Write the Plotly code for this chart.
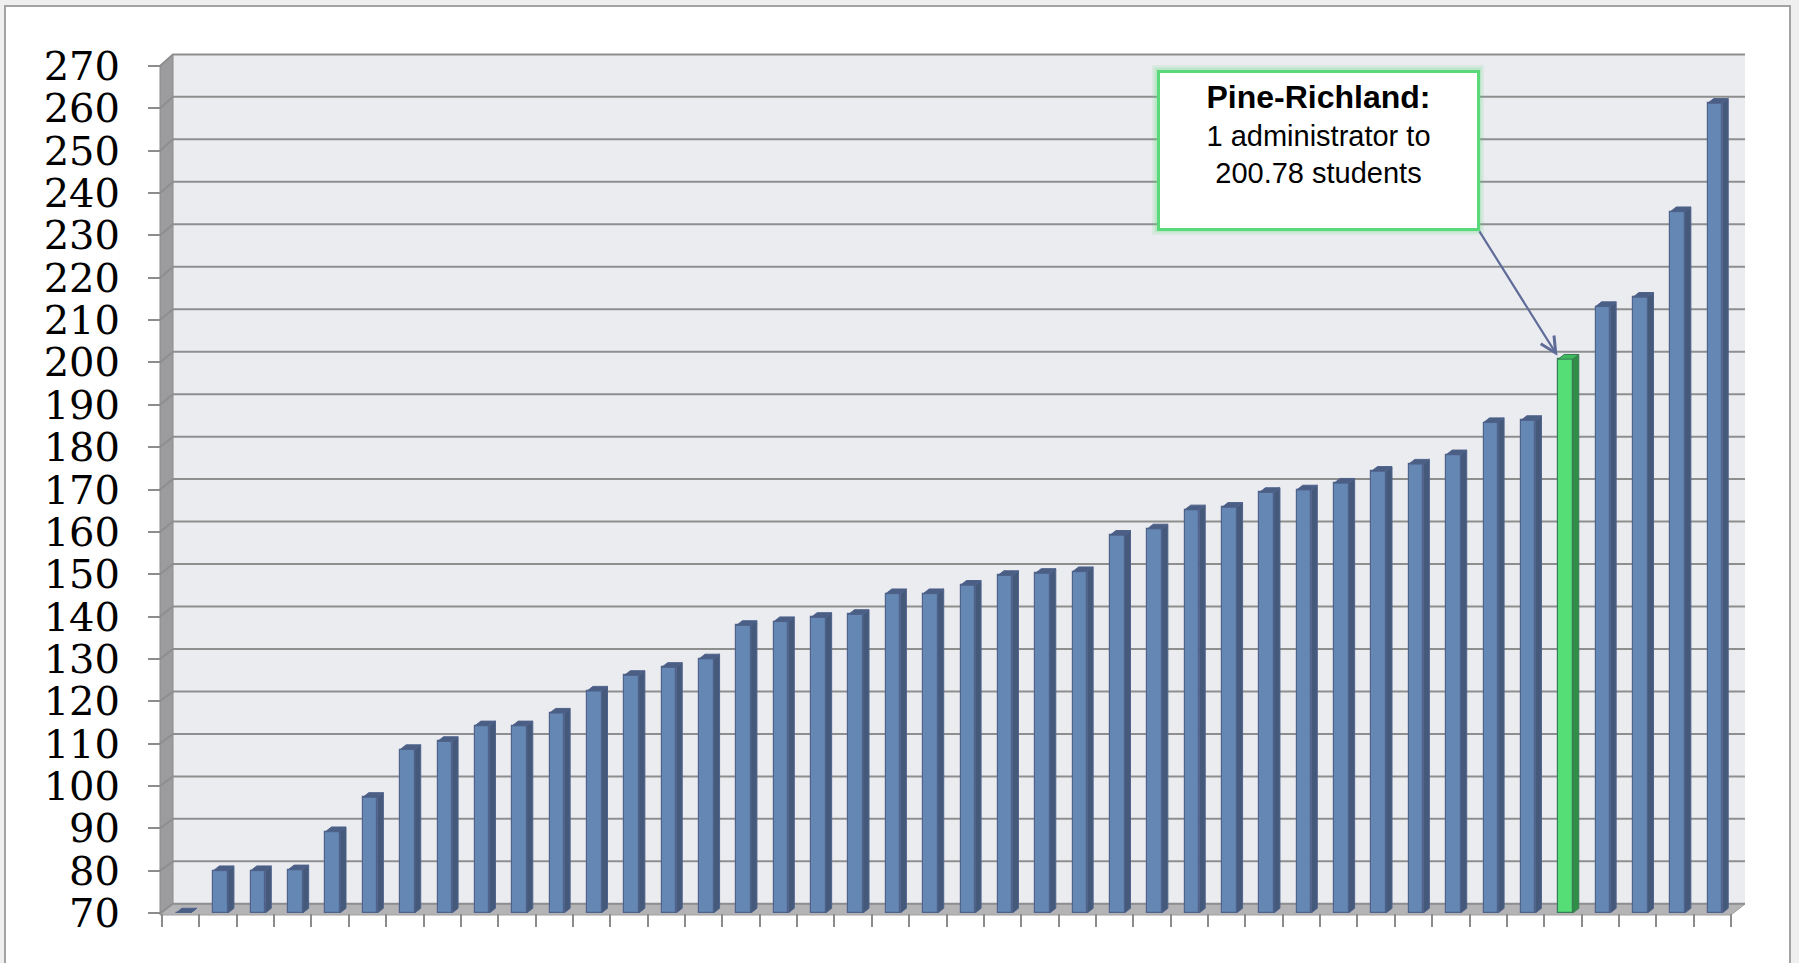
import plotly.graph_objects as go

# ---------------- data ----------------
values = [70.0, 80.0, 80.0, 80.2, 89.2, 97.3, 108.6, 110.5, 114.2, 114.2,
          117.2, 122.4, 126.1, 128.0, 130.0, 137.9, 138.8, 139.8, 140.5, 145.4,
          145.4, 147.4, 149.7, 150.2, 150.6, 159.2, 160.7, 165.2, 165.8, 169.3,
          169.9, 171.5, 174.3, 176.0, 178.2, 185.8, 186.3, 200.78, 213.2, 215.4,
          235.6, 261.2]
highlight_index = 37
y_ticks = list(range(70, 271, 10))
note_title = "Pine-Richland:"
note_lines = ["1 administrator to", "200.78 students"]

# ---------------- geometry ----------------
W_FIG, H_FIG = 1799, 963
ML, MR, MT, MB = 162, 68, 66, 50
PW = W_FIG - ML - MR
PH = H_FIG - MT - MB
YMIN, YMAX = 70, 270
n = len(values)
px_cat = PW / n
px_unit = PH / (YMAX - YMIN)


def pxx(px):
    return (px - ML) / PW


def pxy(py):
    return (H_FIG - MB - py) / PH


BLUE_FRONT = "#6488b3"
BLUE_SIDE = "#455a7b"
BLUE_TOP = "#4b5f84"
BLUE_EDGE = "#4f628c"
GREEN_FRONT = "#55dd76"
GREEN_SIDE = "#2f8f47"
GREEN_TOP = "#3dbb5c"
GREEN_EDGE = "#3a7a58"

off = 0.07
bw = 0.39
dx = 6.0 / px_cat
dy = 4.7 / px_unit

xs = [i + off for i in range(n)]
front_colors = [GREEN_FRONT if i == highlight_index else BLUE_FRONT for i in range(n)]
edge_colors = [GREEN_EDGE if i == highlight_index else BLUE_EDGE for i in range(n)]

fig = go.Figure()
fig.add_trace(go.Bar(
    x=xs, y=[v - YMIN for v in values], base=YMIN, width=bw,
    marker=dict(color=front_colors, line=dict(color=edge_colors, width=1.2)),
    hoverinfo="skip", showlegend=False))


def polys(indices, kind):
    px, py = [], []
    for i in indices:
        v = values[i]
        xl = xs[i] - bw / 2
        xr = xs[i] + bw / 2
        if kind == "side":
            pts = [(xr, YMIN), (xr, v), (xr + dx, v + dy), (xr + dx, YMIN + dy), (xr, YMIN)]
        else:
            pts = [(xl, v), (xr, v), (xr + dx, v + dy), (xl + dx, v + dy), (xl, v)]
        for a, b in pts:
            px.append(a)
            py.append(b)
        px.append(None)
        py.append(None)
    return px, py


blue_idx = [i for i in range(n) if i != highlight_index]
green_idx = [highlight_index]
for idx, side_c, top_c, edge_c in [(blue_idx, BLUE_SIDE, BLUE_TOP, BLUE_EDGE),
                                   (green_idx, GREEN_SIDE, GREEN_TOP, GREEN_EDGE)]:
    for kind, col in [("side", side_c), ("top", top_c)]:
        X, Y = polys(idx, kind)
        fig.add_trace(go.Scatter(x=X, y=Y, mode="lines", fill="toself",
                                 fillcolor=col, line=dict(color=edge_c, width=1),
                                 hoverinfo="skip", showlegend=False))

# ---------------- decoration shapes ----------------
shapes = []
# outer frame
shapes.append(dict(type="rect", xref="paper", yref="paper", layer="below",
                   x0=pxx(5), x1=pxx(1790), y0=pxy(1000), y1=pxy(6),
                   fillcolor="white", line=dict(color="#a3a3a3", width=2)))
# 3D box geometry (px)
FL, BLX, BRX, FRX = 160, 173, 1745, 1731
FRONT_BOTTOM, BACK_BOTTOM, BACK_TOP, FRONT_TOP = 915, 904, 54, 66
# back wall
shapes.append(dict(type="rect", xref="paper", yref="paper", layer="below",
                   x0=pxx(BLX), x1=pxx(BRX), y0=pxy(BACK_BOTTOM), y1=pxy(BACK_TOP),
                   fillcolor="#ebecf0", line=dict(width=0)))
# left wall
shapes.append(dict(type="path", xref="paper", yref="paper", layer="below",
                   path=f"M{pxx(FL)},{pxy(FRONT_TOP)} L{pxx(BLX)},{pxy(BACK_TOP)} "
                        f"L{pxx(BLX)},{pxy(BACK_BOTTOM)} L{pxx(FL)},{pxy(FRONT_BOTTOM)} Z",
                   fillcolor="#9c9c9e", line=dict(color="#8a8a8a", width=1)))
# floor
shapes.append(dict(type="path", xref="paper", yref="paper", layer="below",
                   path=f"M{pxx(FL)},{pxy(FRONT_BOTTOM)} L{pxx(BLX)},{pxy(BACK_BOTTOM)} "
                        f"L{pxx(BRX)},{pxy(BACK_BOTTOM)} L{pxx(FRX)},{pxy(FRONT_BOTTOM)} Z",
                   fillcolor="#b4b4b6", line=dict(color="#a0a0a0", width=1)))
# gridlines on back wall with diagonal on the left wall
for v in y_ticks:
    yt = (v - YMIN) / (YMAX - YMIN)
    shift = 9.2 + 0.012 * (v - YMIN)
    yg = yt + shift / PH
    shapes.append(dict(type="path", xref="paper", yref="paper", layer="below",
                       path=f"M{pxx(FL)},{yt} L{pxx(BLX)},{yg} L{pxx(BRX)},{yg}",
                       line=dict(color="#8e8e8e", width=2)))
# soft glow behind note box
bx0, bx1, by0, by1 = 1158, 1478, 71, 229
for w, a in [(12, 0.12), (7, 0.22)]:
    shapes.append(dict(type="rect", xref="paper", yref="paper", layer="above",
                       x0=pxx(bx0), x1=pxx(bx1), y0=pxy(by1), y1=pxy(by0),
                       fillcolor="rgba(255,255,255,0)",
                       line=dict(color=f"rgba(90,217,120,{a})", width=w)))

fig.update_layout(shapes=shapes)

# ---------------- note box and arrow ----------------
BORDER = 3
PAD = 6
fig.add_annotation(
    xref="paper", yref="paper", xanchor="center", yanchor="middle",
    x=pxx((bx0 + bx1) / 2), y=pxy((by0 + by1) / 2),
    text=(f"<span style='font-size:32px'><b>{note_title}</b></span>"
          f"<br>{note_lines[0]}<br>{note_lines[1]}"),
    showarrow=False, align="center", valign="top",
    width=bx1 - bx0 - 2 * PAD - BORDER, height=by1 - by0 - 2 * PAD - BORDER,
    borderpad=PAD, bgcolor="white", bordercolor="#5ad97a", borderwidth=BORDER,
    font=dict(family="Liberation Sans, Arial, sans-serif", size=29, color="black"))

tip_x = xs[highlight_index] - bw / 2 - 0.02
tip_y = values[highlight_index] + dy * 0.7
fig.add_annotation(
    x=tip_x, y=tip_y, xref="x", yref="y", text="",
    showarrow=True, arrowhead=5, arrowsize=1.4, arrowwidth=2.2,
    arrowcolor="#5f6c98", ax=1478 - 1557, ay=229 - 355, standoff=0)

fig.update_layout(
    width=W_FIG, height=H_FIG,
    margin=dict(l=ML, r=MR, t=MT, b=MB, pad=0),
    paper_bgcolor="#efefef", plot_bgcolor="rgba(0,0,0,0)",
    bargap=0, showlegend=False,
    xaxis=dict(range=[-0.5, n - 0.5], tick0=-0.5, dtick=1, ticks="outside",
               ticklen=13, tickwidth=2, tickcolor="#8c8c8c", showticklabels=False,
               showgrid=False, zeroline=False, showline=False, fixedrange=True),
    yaxis=dict(range=[YMIN, YMAX], tickvals=y_ticks, ticks="outside",
               ticklen=13, tickwidth=2, tickcolor="#8c8c8c",
               ticklabelstandoff=20,
               tickfont=dict(family="DejaVu Serif, Liberation Serif, serif", size=40, color="black"),
               showgrid=False, zeroline=False, showline=False, fixedrange=True),
)

fig.write_html("out.html")
